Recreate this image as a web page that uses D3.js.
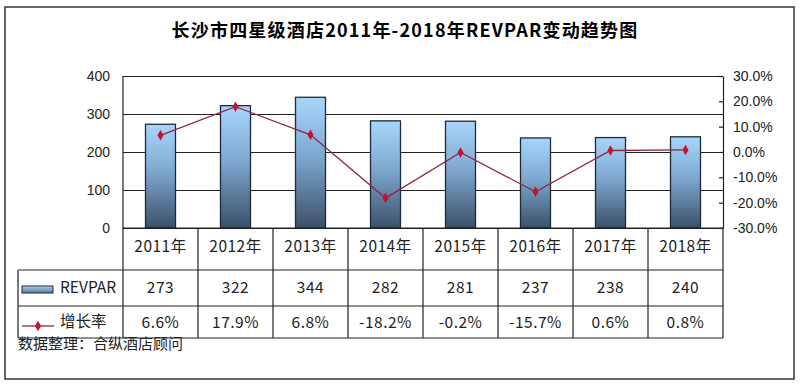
<!DOCTYPE html>
<html>
<head>
<meta charset="utf-8">
<script src="https://cdn.jsdelivr.net/npm/d3@7"></script>
<style>
  body { margin: 0; background: #fff; }
  text { font-family: "Noto Sans CJK SC", "Liberation Sans", sans-serif; }
</style>
</head>
<body>
<div id="chart"></div>
<script>
// data
const years = ["2011年", "2012年", "2013年", "2014年", "2015年", "2016年", "2017年", "2018年"];
const revpar = [273, 322, 344, 282, 281, 237, 238, 240];
const growth = [6.6, 17.9, 6.8, -18.2, -0.2, -15.7, 0.6, 0.8];
const leftTicks = [0, 100, 200, 300, 400];
const rightTicks = [-30, -20, -10, 0, 10, 20, 30];

const W = 800, H = 387;
const plot = { left: 123, right: 723, top: 76, bottom: 228 };
const rows = [228, 270, 306, 338];
const legendLeft = 18;

const svg = d3.select("#chart")
    .append("svg")
    .attr("width", W)
    .attr("height", H);

// gradient for bars
const defs = svg.append("defs");
const grad = defs.append("linearGradient")
    .attr("id", "barGrad")
    .attr("x1", 0).attr("y1", 0).attr("x2", 0).attr("y2", 1);
grad.append("stop").attr("offset", "0%").attr("stop-color", "#a9d5fb");
grad.append("stop").attr("offset", "45%").attr("stop-color", "#7ea8d0");
grad.append("stop").attr("offset", "100%").attr("stop-color", "#3b5069");

const legGrad = defs.append("linearGradient")
    .attr("id", "legGrad")
    .attr("x1", 0).attr("y1", 0).attr("x2", 0).attr("y2", 1);
legGrad.append("stop").attr("offset", "0%").attr("stop-color", "#a9d0f0");
legGrad.append("stop").attr("offset", "100%").attr("stop-color", "#5a7898");

// outer frame
svg.append("rect")
    .attr("x", 5).attr("y", 7)
    .attr("width", 789).attr("height", 372)
    .attr("fill", "none")
    .attr("stroke", "#333")
    .attr("stroke-width", 1.5);

// title
svg.append("text")
    .attr("x", 405).attr("y", 37)
    .attr("text-anchor", "middle")
    .style("font-size", "18px")
    .style("font-weight", "bold")
    .style("letter-spacing", "1.2px")
    .text("长沙市四星级酒店2011年-2018年REVPAR变动趋势图");

// scales
const x = d3.scaleBand()
    .domain(years)
    .range([plot.left, plot.right])
    .padding(0);

const y = d3.scaleLinear()
    .domain([0, 400])
    .range([plot.bottom, plot.top]);

const y2 = d3.scaleLinear()
    .domain([-30, 30])
    .range([plot.bottom, plot.top]);

// gridlines + left axis
svg.append("g")
    .attr("transform", `translate(${plot.left},0)`)
    .call(d3.axisLeft(y).tickValues(leftTicks).tickSize(-(plot.right - plot.left)).tickPadding(13))
    .call(g => g.select(".domain").remove())
    .call(g => g.selectAll("line").attr("stroke", "#222").attr("stroke-width", 1.2))
    .call(g => g.selectAll("text")
        .style("font-family", "'Liberation Sans', Arial, sans-serif")
        .style("font-size", "14px")
        .attr("fill", "#222"));

// plot border (left)
svg.append("line")
    .attr("x1", plot.left).attr("x2", plot.left)
    .attr("y1", plot.top).attr("y2", rows[3])
    .attr("stroke", "#222").attr("stroke-width", 1.2);

// right axis
svg.append("g")
    .attr("transform", `translate(${plot.right},0)`)
    .call(d3.axisRight(y2).tickValues(rightTicks).tickSizeInner(-4).tickSizeOuter(0).tickPadding(10)
        .tickFormat(d => d.toFixed(1) + "%"))
    .call(g => g.select(".domain").attr("stroke", "#222").attr("stroke-width", 1.2))
    .call(g => g.selectAll("line").attr("stroke", "#222").attr("stroke-width", 1.2))
    .call(g => g.selectAll("text")
        .style("font-family", "'Liberation Sans', Arial, sans-serif")
        .style("font-size", "14px")
        .attr("fill", "#222"));

// bars
const barW = 30;
svg.append("g")
    .selectAll("rect")
    .data(revpar)
    .join("rect")
    .attr("x", (d, i) => x(years[i]) + x.bandwidth() / 2 - barW / 2)
    .attr("y", d => y(d))
    .attr("width", barW)
    .attr("height", d => y(0) - y(d))
    .attr("fill", "url(#barGrad)")
    .attr("stroke", "#1e2a38")
    .attr("stroke-width", 1.3);

// growth line
const line = d3.line()
    .x((d, i) => x(years[i]) + x.bandwidth() / 2)
    .y(d => y2(d));

svg.append("path")
    .datum(growth)
    .attr("d", line)
    .attr("fill", "none")
    .attr("stroke", "#8e2a45")
    .attr("stroke-width", 1.3);

const diamond = d3.symbol().type(d3.symbolDiamond).size(32);
svg.append("g")
    .selectAll("path")
    .data(growth)
    .join("path")
    .attr("transform", (d, i) => `translate(${x(years[i]) + x.bandwidth() / 2},${y2(d)})`)
    .attr("d", diamond)
    .attr("fill", "#c2142f");

// data table
const table = svg.append("g").attr("stroke", "#222").attr("stroke-width", 1.2);
table.append("line")
    .attr("x1", plot.left).attr("x2", plot.right)
    .attr("y1", rows[0]).attr("y2", rows[0]);
[rows[1], rows[2], rows[3]].forEach(r => {
    table.append("line")
        .attr("x1", legendLeft).attr("x2", plot.right)
        .attr("y1", r).attr("y2", r);
});
years.forEach(yr => {
    table.append("line")
        .attr("x1", x(yr) + x.bandwidth()).attr("x2", x(yr) + x.bandwidth())
        .attr("y1", rows[0]).attr("y2", rows[3]);
});
table.append("line")
    .attr("x1", legendLeft).attr("x2", legendLeft)
    .attr("y1", rows[1]).attr("y2", rows[3]);

const cellText = (vals, cy, fmt) => {
    svg.append("g")
        .selectAll("text")
        .data(vals)
        .join("text")
        .attr("x", (d, i) => x(years[i]) + x.bandwidth() / 2)
        .attr("y", cy)
        .attr("text-anchor", "middle")
        .attr("dominant-baseline", "middle")
        .style("font-size", "15.5px")
        .style("letter-spacing", "0.5px")
        .attr("fill", "#222")
        .text(fmt);
};
cellText(years, 248, d => d);
cellText(revpar, 289, d => d);
cellText(growth, 324, d => d.toFixed(1) + "%");

// legend cells
svg.append("rect")
    .attr("x", 22).attr("y", 286)
    .attr("width", 31).attr("height", 7)
    .attr("fill", "url(#legGrad)")
    .attr("stroke", "#1e2a38");
svg.append("text")
    .attr("x", 60).attr("y", 289)
    .attr("dominant-baseline", "middle")
    .style("font-size", "15.5px")
    .attr("fill", "#222")
    .text("REVPAR");

svg.append("line")
    .attr("x1", 22).attr("x2", 54)
    .attr("y1", 326).attr("y2", 326)
    .attr("stroke", "#8e2a45").attr("stroke-width", 1.3);
svg.append("path")
    .attr("transform", "translate(38,326)")
    .attr("d", diamond)
    .attr("fill", "#c2142f");
svg.append("text")
    .attr("x", 60).attr("y", 323)
    .attr("dominant-baseline", "middle")
    .style("font-size", "15.5px")
    .attr("fill", "#222")
    .text("增长率");

// source note
svg.append("text")
    .attr("x", 18).attr("y", 349)
    .style("font-size", "15px")
    .attr("fill", "#222")
    .text("数据整理：合纵酒店顾问");
</script>
</body>
</html>
